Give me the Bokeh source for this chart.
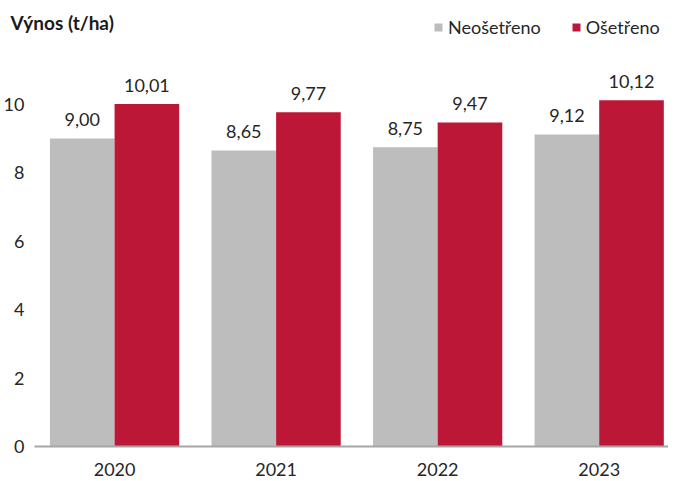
from bokeh.plotting import figure
from bokeh.models import Range1d, FixedTicker, ColumnDataSource, Label
from bokeh.transform import dodge
from bokeh.core.properties import value
from bokeh.embed import file_html
from bokeh.resources import INLINE

years = ["2020", "2021", "2022", "2023"]
untreated = [9.00, 8.65, 8.75, 9.12]
treated = [10.01, 9.77, 9.47, 10.12]
y_ticks = [0, 2, 4, 6, 8, 10]

GRAY = "#BDBDBD"
RED = "#BD1737"
TXT = "#262626"
FONT = "Lato"

idx = list(range(len(years)))
fmt = lambda v: f"{v:.2f}".replace(".", ",")
src = ColumnDataSource(dict(
    x=idx, untreated=untreated, treated=treated,
    ulab=[fmt(v) for v in untreated], tlab=[fmt(v) for v in treated],
))

p = figure(width=668, height=478, output_backend="svg", toolbar_location=None,
           x_range=Range1d(-0.669, 3.429), y_range=Range1d(0, 12.92),
           min_border_left=0, min_border_right=0, min_border_top=4, min_border_bottom=32)

p.vbar(x=dodge("x", -0.2), top="untreated", width=0.4, source=src,
       fill_color=GRAY, line_color=None, legend_label="Neošetřeno")
p.vbar(x=dodge("x", 0.2), top="treated", width=0.4, source=src,
       fill_color=RED, line_color=None, legend_label="Ošetřeno")

for col, lab, off in (("untreated", "ulab", -0.2), ("treated", "tlab", 0.2)):
    p.text(x=dodge("x", off), y=col, text=lab, source=src, text_align="center",
           text_baseline="middle", y_offset=-19, text_font_size="18px",
           text_font=value(FONT), text_color=TXT)

p.xaxis.ticker = FixedTicker(ticks=idx)
p.xaxis.major_label_overrides = {i: y for i, y in zip(idx, years)}
p.xaxis.bounds = (-0.497, 3.429)
p.xaxis.axis_line_color = "#A6A6A6"
p.xaxis.axis_line_width = 2
p.xaxis.major_tick_line_color = None
p.xaxis.minor_tick_line_color = None
p.xaxis.major_label_standoff = 10
p.xaxis.major_label_text_line_height = 1.0

p.yaxis.ticker = FixedTicker(ticks=y_ticks)
p.yaxis.axis_line_color = None
p.yaxis.major_tick_line_color = None
p.yaxis.minor_tick_line_color = None
p.yaxis.major_label_standoff = -24

for ax in (p.xaxis, p.yaxis):
    ax.major_label_text_font = FONT
    ax.major_label_text_font_size = "18px"
    ax.major_label_text_color = TXT

p.grid.visible = False
p.outline_line_color = None

lg = p.legend[0]
lg.location = (427, 408)
lg.orientation = "horizontal"
lg.glyph_width = 10
lg.glyph_height = 10
lg.label_standoff = 5
lg.spacing = 30
lg.padding = 0
lg.margin = 0
lg.border_line_color = None
lg.background_fill_alpha = 0
lg.label_text_font = FONT
lg.label_text_font_size = "18px"
lg.label_text_color = TXT

title = Label(x=4, y=424, x_units="screen", y_units="screen", text="Výnos (t/ha)",
              text_font=FONT, text_font_style="bold", text_font_size="19px",
              text_color="#1A1A1A", text_baseline="middle")
p.add_layout(title)

open("out.html", "w").write(file_html(p, INLINE))
